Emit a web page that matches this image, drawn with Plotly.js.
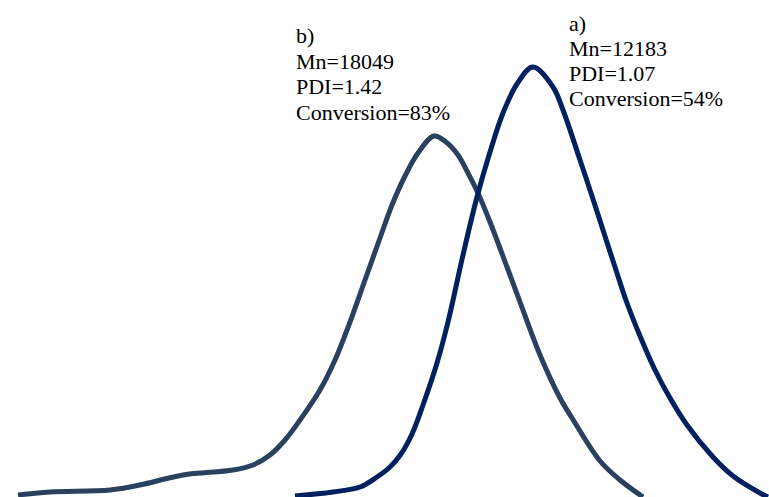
<!DOCTYPE html>
<html>
<head>
<meta charset="utf-8">
<script src="https://cdn.plot.ly/plotly-3.0.1.min.js"></script>
<style>html,body{margin:0;padding:0;background:#fff;}#chart{width:769px;height:497px;}</style>
</head>
<body>
<div id="chart"></div>
<script>
// Sample b) — GPC trace (elution axis, signal)
var bX = [18, 50, 110, 140, 183, 233, 253, 270, 285, 300, 320, 335, 350, 365, 380, 392, 405, 418, 434, 446, 458, 469, 478, 490, 507, 520, 540, 560, 572, 600, 620, 643];
var bY = [2, 5, 7, 12, 22, 27, 32, 42, 57, 77, 107, 137, 175, 217, 259, 292, 321, 344, 361, 355, 342, 322, 304, 275, 230, 195, 142, 99, 79, 36, 17, 0];
// Sample a) — GPC trace
var aX = [295, 333, 360, 377, 390, 401, 412, 423, 437, 448, 463, 477, 490, 503, 517, 533, 553, 563, 580, 590, 603, 615, 627, 640, 655, 670, 687, 713, 733, 760, 768];
var aY = [1, 5, 10, 20, 30, 43, 63, 92, 134, 175, 242, 300, 345, 384, 413, 430, 410, 387, 337, 307, 267, 230, 194, 161, 127, 99, 72, 40, 21, 4, 0];

var labelsB = ["b)", "Mn=18049", "PDI=1.42", "Conversion=83%"];
var labelsA = ["a)", "Mn=12183", "PDI=1.07", "Conversion=54%"];

var traces = [
  {x: bX, y: bY, mode: "lines", line: {color: "#29405f", width: 5, shape: "spline", smoothing: 1}, hoverinfo: "skip"},
  {x: aX, y: aY, mode: "lines", line: {color: "#00205f", width: 5, shape: "spline", smoothing: 1}, hoverinfo: "skip"}
];

var ann = [];
var bTop = [35.5, 61, 86.5, 112];
var aTop = [23.5, 48.5, 73.5, 98.5];
labelsB.forEach(function (t, i) {
  ann.push({text: t, xref: "paper", yref: "paper", x: 294 / 769, y: 1 - bTop[i] / 497,
    xanchor: "left", yanchor: "middle", showarrow: false,
    font: {family: "Liberation Serif, Times New Roman, serif", size: 22, color: "#000"}});
});
labelsA.forEach(function (t, i) {
  ann.push({text: t, xref: "paper", yref: "paper", x: 567 / 769, y: 1 - aTop[i] / 497,
    xanchor: "left", yanchor: "middle", showarrow: false,
    font: {family: "Liberation Serif, Times New Roman, serif", size: 22, color: "#000"}});
});

var layout = {
  width: 769, height: 497,
  margin: {l: 0, r: 0, t: 0, b: 0},
  paper_bgcolor: "#fff", plot_bgcolor: "#fff",
  showlegend: false,
  xaxis: {range: [0, 769], visible: false, fixedrange: true},
  yaxis: {range: [0, 497], visible: false, fixedrange: true},
  annotations: ann
};

Plotly.newPlot("chart", traces, layout, {staticPlot: true, displayModeBar: false});
</script>
</body>
</html>
